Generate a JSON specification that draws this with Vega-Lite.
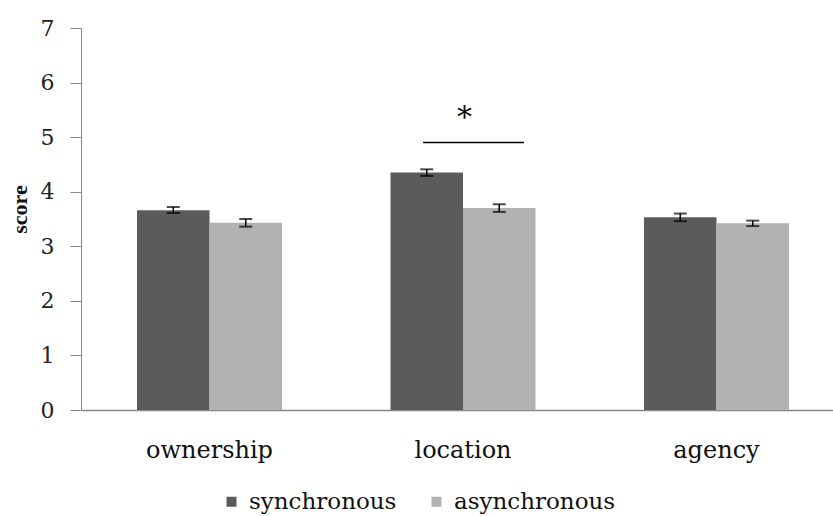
{
  "$schema": "https://vega.github.io/schema/vega-lite/v6.json",
  "width": 752,
  "height": 382,
  "autosize": {"type": "none"},
  "padding": {"left": 81, "top": 28, "right": 0, "bottom": 106},
  "background": "white",
  "config": {
    "view": {"stroke": null},
    "font": "DejaVu Serif"
  },
  "datasets": {
    "bars": [
      {"category": "ownership", "condition": "synchronous", "score": 3.66, "lo": 3.61, "hi": 3.72},
      {"category": "ownership", "condition": "asynchronous", "score": 3.43, "lo": 3.36, "hi": 3.50},
      {"category": "location", "condition": "synchronous", "score": 4.35, "lo": 4.29, "hi": 4.41},
      {"category": "location", "condition": "asynchronous", "score": 3.70, "lo": 3.63, "hi": 3.77},
      {"category": "agency", "condition": "synchronous", "score": 3.53, "lo": 3.46, "hi": 3.60},
      {"category": "agency", "condition": "asynchronous", "score": 3.42, "lo": 3.37, "hi": 3.47}
    ],
    "sig": [
      {"category": "location", "y": 4.9, "star_y": 5.35, "label": "*"}
    ]
  },
  "layer": [
    {
      "data": {"name": "bars"},
      "mark": {"type": "bar"},
      "encoding": {
        "x": {
          "field": "category", "type": "nominal",
          "sort": ["ownership", "location", "agency"],
          "scale": {"paddingInner": 0.428, "paddingOuter": 0.221, "range": [0, 764]},
          "axis": {
            "title": null, "labelAngle": 0, "ticks": false,
            "labelFont": "DejaVu Serif", "labelFontSize": 24, "labelColor": "#111",
            "labelBaseline": "alphabetic", "labelPadding": 47,
            "domainColor": "#888", "domainWidth": 1.5
          }
        },
        "xOffset": {
          "field": "condition", "type": "nominal",
          "sort": ["synchronous", "asynchronous"],
          "scale": {"paddingInner": 0, "paddingOuter": 0}
        },
        "y": {
          "field": "score", "type": "quantitative",
          "scale": {"domain": [0, 7], "nice": false},
          "axis": {
            "title": "score", "titleFont": "Liberation Serif", "titleFontSize": 22, "titleFontWeight": "bold",
            "titleColor": "#111", "titleX": -62, "titleY": 181, "titleAngle": -90,
            "titleAlign": "center", "titleBaseline": "middle",
            "values": [0, 1, 2, 3, 4, 5, 6, 7], "format": "d", "grid": false,
            "labelFont": "DejaVu Serif", "labelFontSize": 22, "labelColor": "#222", "labelPadding": 16,
            "tickSize": 11, "tickColor": "#888", "domainColor": "#888"
          }
        },
        "color": {
          "field": "condition", "type": "nominal",
          "sort": ["synchronous", "asynchronous"],
          "scale": {"domain": ["synchronous", "asynchronous"], "range": ["#5b5b5b", "#b2b2b2"]},
          "legend": {
            "title": null, "orient": "none", "direction": "horizontal",
            "legendX": 139, "legendY": 462, "labelLimit": 400,
            "symbolType": "square", "symbolSize": 100, "symbolStrokeWidth": 0,
            "labelFont": "DejaVu Serif", "labelFontSize": 23, "labelColor": "#111", "labelOffset": 6, "columnPadding": 28
          }
        }
      }
    },
    {
      "data": {"name": "bars"},
      "mark": {"type": "rule", "color": "black", "strokeWidth": 1.5},
      "encoding": {
        "x": {"field": "category", "type": "nominal", "sort": ["ownership", "location", "agency"]},
        "xOffset": {"field": "condition", "type": "nominal", "sort": ["synchronous", "asynchronous"]},
        "y": {"field": "lo", "type": "quantitative"},
        "y2": {"field": "hi"}
      }
    },
    {
      "data": {"name": "bars"},
      "mark": {"type": "tick", "color": "black", "size": 13, "thickness": 2, "orient": "horizontal"},
      "encoding": {
        "x": {"field": "category", "type": "nominal", "sort": ["ownership", "location", "agency"]},
        "xOffset": {"field": "condition", "type": "nominal", "sort": ["synchronous", "asynchronous"]},
        "y": {"field": "lo", "type": "quantitative"}
      }
    },
    {
      "data": {"name": "bars"},
      "mark": {"type": "tick", "color": "black", "size": 13, "thickness": 2, "orient": "horizontal"},
      "encoding": {
        "x": {"field": "category", "type": "nominal", "sort": ["ownership", "location", "agency"]},
        "xOffset": {"field": "condition", "type": "nominal", "sort": ["synchronous", "asynchronous"]},
        "y": {"field": "hi", "type": "quantitative"}
      }
    },
    {
      "data": {"name": "sig"},
      "mark": {"type": "rule", "color": "black", "strokeWidth": 1.5},
      "encoding": {
        "x": {"field": "category", "type": "nominal", "sort": ["ownership", "location", "agency"], "bandPosition": 0.225},
        "x2": {"field": "category", "bandPosition": 0.92},
        "y": {"field": "y", "type": "quantitative"}
      }
    },
    {
      "data": {"name": "sig"},
      "mark": {"type": "text", "fontSize": 30, "color": "#111", "baseline": "middle"},
      "encoding": {
        "x": {"field": "category", "type": "nominal", "sort": ["ownership", "location", "agency"], "bandPosition": 0.51},
        "y": {"field": "star_y", "type": "quantitative"},
        "text": {"field": "label"}
      }
    }
  ]
}
